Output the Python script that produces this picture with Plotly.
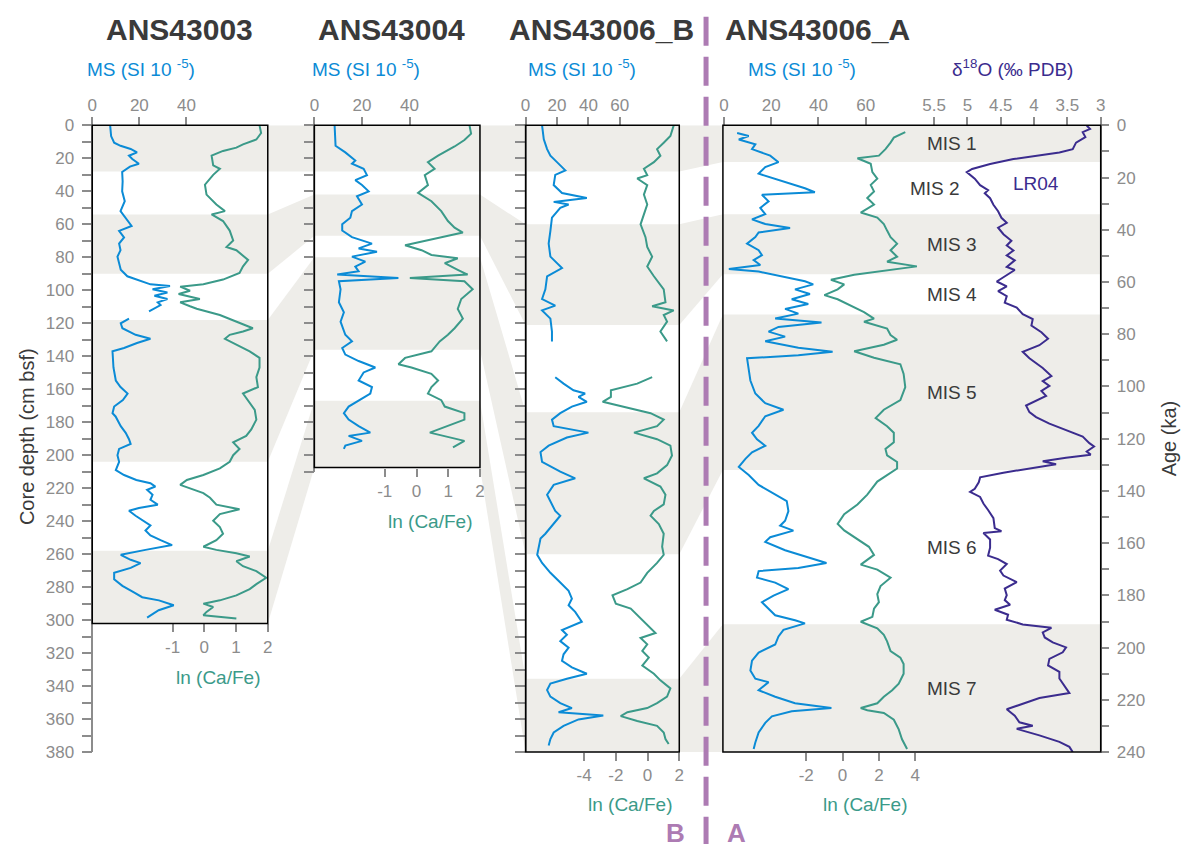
import plotly.graph_objects as go

W, H = 1189, 854

BLUE = "#0b8bd6"
GREEN = "#3b9a89"
PURPLE = "#3b2c8e"
MAUVE = "#ad7bb3"
BAND = "#eeede9"
TICK = "#8c8c8c"
DARK = "#3a3a3a"
FONT = "Arial, Liberation Sans, sans-serif"

DEPTH_MAX = 380
AGE_MAX = 240

# ---------------- ANS43003 ----------------
a3_length = 302
a3_ms_depth = [0, 6.5, 10.5, 12.4, 14.3, 16.4, 18.4, 20.4, 23.3, 25, 28.3, 34, 40, 46, 52, 56, 61, 64, 68,
               71.7, 75.7, 79.6, 83.6, 87.5, 91.5, 94.5, 96.4, 97.4, 99.4, 101.3, 103.3, 105.3, 107.3, 109,
               112.8, None,
               117.2, 120, 123, 127, 129.4, 132, 135, 137, 146.8, 154.7, 158.7, 162.6, 166.6, 170.5, 174.5,
               176.5, 182.4, 186.4, 190.3, 193.2, 196.2, 200, 204, 209, 212, 215, 217, 219, 221, 224, 227,
               230, 232, 233.7, 236.7, 239.7, 242.6, 245.6, 248.6, 251.5, 254.5, 257.4, 260.4, 263.4, 265.4,
               268.3, 271.3, 275.2, 279.2, 283.2, 286.1, 288, 291, 294, 297, 298.5]
a3_ms = [7.6, 8, 9.3, 12, 16.3, 19, 15.6, 17, 19.8, 16, 12.7, 12.9, 12.7, 13.8, 12, 14, 16.7, 11.4, 13.5,
         11.4, 12, 10.7, 11.4, 12.1, 14.9, 20.5, 24.7, 33, 25.6, 31.9, 26.4, 31.9, 27.8, 29,
         24.1, None,
         15.6, 12.1, 12.8, 18.4, 24.7, 19, 13.5, 8.6, 9, 10, 12, 15, 13, 9.3, 8.6,
         9.9, 12.1, 14.2, 15.6, 16.3, 11.4, 10.7, 11.4, 10, 13.5, 18.7, 24.7, 26.8, 23.3, 25.6, 24.7,
         27.8, 19.8, 15.6, 18.4, 21.9, 24.7, 22.6, 24.7, 29, 33.9, 22.6, 12.1, 16.3, 20.5,
         16.3, 9.3, 9.3, 12.8, 17.7, 21.2, 28.3, 34.6, 28.2, 24.7, 23.3]
a3_ln_depth = [0, 4.7, 8.6, 11.5, 13.5, 15.5, 18.4, 24.3, 26.3, 30, 36, 42, 48, 52, 54, 58, 63.8, 69.8, 73.8,
               75.7, 81.6, 85.5, 89.5, 93.5, 96.4, 97.8, 100.3, 102.3, 105.3, 107.3, 109.7, 111.2, 115, 119,
               123, 125, 127, 129.4, 133, 137, 141, 146.8, 152.7, 158.7, 162.6, 166.6, 172.5, 178.4, 184.4,
               188.3, 192.2, 196.2, 200, 204, 208, 212, 215, 218, 220, 223, 225.8, 230, 232.8, 235.7, 239.7,
               243.6, 247.6, 251.5, 255.5, 257.4, 259.4, 261.4, 264.3, 267.3, 270.3, 274.3, 278.2, 281.2,
               285, 288, 290, 292, 295, 297, 299]
a3_ln = [1.74, 1.79, 1.64, 1.22, 1.01, 0.59, 0.23, 0.28, 0.49, 0.28, 0.02, 0.07, 0.38, 0.65, 0.23, 0.59, 0.8,
         0.91, 0.7, 1.01, 1.38, 1.22, 1.11, 0.59, -0.03, -0.76, -0.45, -0.81, -0.14, -0.76, -0.45, -0.24,
         0.49, 1.01, 1.53, 1.22, 0.8, 0.65, 1.01, 1.43, 1.74, 1.74, 1.64, 1.69, 1.22, 1.38, 1.59, 1.64,
         1.48, 1.32, 0.91, 1.11, 0.91, 0.8, 0.49, -0.03, -0.55, -0.76, -0.45, -0.03, 0.18, 0.38, 1.11,
         0.49, 0.28, 0.49, 0.59, 0.38, -0.03, 0.38, 1.01, 1.43, 1.01, 1.22, 1.64, 1.95, 1.64, 1.43, 1.01,
         0.49, -0.03, 0.28, 0.07, -0.03, 1.01]
a3_bands = [(0, 28), (54, 90), (118, 204), (258, 302)]

# ---------------- ANS43004 ----------------
a4_length = 207.5
a4_ms_depth = [0, 12.4, 16.4, 21.3, 23.3, 26.3, 30.2, 33.2, 36.2, 40, 43, 48, 52, 56, 60, 63.8, 67.8, 71.7,
               74.6, 76.6, 79.6, 82.6, 85.6, 88.5, 90.5, 92.5, 94.5, 99.4, 107.3, 113.3, 119, 127, 131, 135,
               139, 142.9, 146.8, 149.8, 154.7, 158.7, 162.6, 166.6, 170.5, 174.5, 178.4, 182.4, 186.3,
               188.3, 191.3, 194.2, 196.2]
a4_ms = [8.5, 8.9, 13, 17.2, 15.8, 20.7, 22.1, 17.2, 20, 22.8, 17.9, 20, 15.8, 15.1, 11.7, 11.7, 15.8, 24.2,
         18.6, 26.3, 15.8, 21.4, 17.2, 18.6, 9.6, 35.3, 10.3, 11, 10.3, 12.4, 11, 13, 15.8, 11.7,
         13, 18.6, 25.6, 20.7, 18.6, 24.2, 23.5, 18.6, 14.4, 12.4, 14.4, 18.6, 23.5,
         14.4, 20, 13, 12.4]
a4_ln_depth = [0, 5, 8.9, 12.8, 18.4, 22.3, 26.3, 30.2, 36.2, 41, 46, 52, 58, 62, 65, 67, 69.8, 72.7, 75.7,
               78.6, 80.6, 83.6, 87.6, 90.5, 92.5, 94.5, 99.4, 105.3, 111.3, 117.2, 123, 127, 131, 137, 141,
               144.8, 146.8, 150.7, 154.7, 158.7, 162.6, 166.6, 170.5, 174.5, 178.4, 186.3, 191.3, 195.2]
a4_ln = [1.67, 1.72, 1.51, 1.2, 0.68, 0.36, 0.57, 0.26, 0.36, 0.05, 0.47, 0.78, 0.99, 1.2, 1.46, 0.99, 0.26,
         -0.36, 0.16, 0.47, 1.3, 0.89, 1.3, 1.61, -0.21, 1.51, 1.77, 1.41, 1.3, 1.46, 1.2, 0.99, 0.73, 0.47,
         -0.36, -0.57, -0.16, 0.47, 0.68, 0.47, 0.36, 0.78, 0.89, 1.51, 1.51, 0.42, 1.51, 1.15]
a4_bands = [(0, 28), (42, 67), (80, 136), (167, 207.5)]

# ---------------- ANS43006_B ----------------
b6_length = 380
b6_ms_depth = [0, 8.5, 14.4, 18.4, 22.3, 27.3, 30, 36.2, 41, 44, 46.4, 48, 50, 56, 64, 71.7, 79.6, 86.5, 91.5,
               99.4, 105.3, 109.3, 112.2, 117.2, 125, 131, None,
               152.7, 156.6, 160.6, 162.6, 164.6, 167.6, 170.5, 174.5, 178.4, 182.4, 186.3, 189.3, 194.2,
               198.1, 204, 210, 214, 218, 224, 229.8, 233.8, 236.7, 241.7, 247.6, 250.5, 255.5, 260.4, 265.3,
               271.3, 277.2, 282.2, 287, 291, 295, 301, 306, 308.8, 312.7, 316.7, 320.7, 324.6, 328.6, 332.5,
               335.5, 338.5, 342.4, 346.4, 350.3, 353.3, 355.8, 357.8, 360.2, 364.1, 368.1, 372.1, 376]
b6_ms = [10.5, 11.6, 13.7, 15.8, 20, 25.3, 18.9, 17.9, 23.2, 39, 17.9, 27.4, 22.1, 16.8, 15.8, 14.7, 15.8, 23.2,
         13.7, 12.6, 10.5, 18.9, 10.5, 15.8, 16.8, 16.8, None,
         18.9, 24.2, 30.5, 37.9, 33.7, 39, 29.5, 22.1, 16.8, 17.9, 40, 26.3, 14.7,
         9.5, 10.5, 22.1, 31.6, 17.9, 13.7, 16.8, 18.9, 22.1, 17.9, 12.6, 9.5, 8.4, 7.4, 10.5,
         15.8, 22.1, 27.4, 29.5, 27.4, 31.6, 35.8, 23.2, 26.3, 22.1, 27.4, 24.2, 23.2, 29.5, 39,
         26.3, 15.8, 13.7, 15.8, 22.1, 29.5, 21, 49.5, 33.7, 24.2, 17.9, 15.8, 14.7]
b6_ln_depth = [0, 6.5, 10.5, 14.4, 18.4, 22.3, 26.3, 30.2, 32.2, 36.2, 42, 48, 54, 60, 67.8, 73.7, 79.6, 85.6,
               91.5, 99.4, 107.3, 109.7, 112.2, 115, 119, 125, 131, None,
               152.7, 156.6, 160.6, 164.6, 167.6, 170.5, 174.5, 178.4, 182.4, 186.3, 190.3, 194.2, 200.2,
               206, 211, 214, 219, 224, 229.8, 233.8, 236.7, 241.7, 247.6, 255.5, 260.4, 265.3, 271.3,
               277.2, 281.2, 285, 290, 293, 299, 303, 307.8, 310.8, 314.7, 318.7, 322.7, 327.6, 332.5,
               336.5, 341.4, 346.4, 350.3, 353.3, 355.8, 358.2, 361.1, 364.1, 368.1, 372.1, 375.1]
b6_ln = [1.65, 1.44, 1.02, 0.6, 0.81, 0.4, -0.23, -0.02, -0.65, -0.02, -0.23, -0.02, -0.23, -0.44, -0.13,
         -0.02, 0.29, -0.02, 0.4, 1.02, 1.13, 0.29, 1.65, 1.02, 1.23, 0.81, 1.23, None,
         0.29, -0.65, -2.31, -2.31, -2.83, -1.48, 0.19, 1.02, 0.6, -0.85, 0.6, 1.44, 1.54,
         1.23, 0.6, -0.23, 0.81, 1.13, 1.02, 0.4, 0.19, 0.71, 1.02, 0.92, 1.02, 0.6, -0.02,
         -0.44, -1.27, -2.21, -2.0, -1.06, -0.44, -0.02, 0.5, -0.44, -0.02, -0.33, 0.08, -0.33, 0.4,
         0.81, 1.44, 1.23, 0.6, -0.02, -1.27, -1.69, -0.65, 0.6, 1.02, 1.13, 1.33]
b6_bands = [(0, 28), (60, 121), (174, 260), (335.5, 380)]

# ---------------- ANS43006_A (age scale) ----------------
a6_ms_age = [2.9, 4.1, 5.4, 7.3, 9.1, 11.6, 14.1, 16, 18.5, 20.4, 22.8, 24.1, 25.6, 26.6, 29.1, 31.6, 34, 36,
             37.8, 39.3, 41, 42.8, 45.3, 47.8, 49.7, 51.6, 53.5, 55, 56, 57.8, 59.7, 60.9, 62.8, 64.6, 66.6,
             68.4, 70.3, 72.1, 74, 75.5, 77.2, 79, 80.9, 82.7, 85.2, 86.7, 88, 89.2, 92.7, 97.7, 102.7,
             106.4, 108.9, 111.4, 115.1, 117.7, 120.2, 122.7, 125.2, 127.7, 130.8, 133.9, 137.7, 141.4,
             143.9, 147.7, 151.4, 153.3, 155.2, 157.7, 159.5, 162.7, 165.1, 167.6, 169.5, 170.7, 173.2,
             175.1, 177.6, 180.1, 182.6, 185.1, 187.6, 189.5, 190.7, 193.2, 195.7, 198.8, 201.9, 205,
             208.8, 211.9, 213.2, 216.3, 218.8, 221.3, 223.1, 224.4, 226.3, 228.8, 232.5, 236.3, 238.8]
a6_ms = [5.6, 10.5, 6.3, 13.3, 11.9, 19.6, 23.1, 17.5, 14.7, 21.7, 30.1, 34.3, 38.5, 16.1, 18.9, 15.4, 17.5,
         11.9, 17.5, 28, 14.7, 13.3, 9.8, 14.7, 16.1, 12.6, 15.4, 2.1, 14.7, 24.5, 34.3, 37.8, 30.1, 36.4,
         28.7, 35.7, 25.9, 31.5, 21.7, 41.3, 23.1, 18.9, 25.9, 17.5, 31.5, 46, 31.5, 9.8, 10.5, 11.2, 13.3,
         17.5, 25.2, 17.5, 14.7, 11.9, 14, 17.5, 11.9, 9.1, 6.3, 10.5, 14.7, 21.7,
         26.6, 27.3, 25.9, 23.8, 29.4, 19.6, 17.5, 25.9, 34.3, 43.4, 31.5, 14.7, 14,
         21.7, 27.3, 21, 16.1, 18.9, 21.7, 30.1, 34.3, 25.2, 23.1, 21.7, 14.7, 11.9,
         11.2, 13.3, 18.9, 14.7, 21.7, 30.1, 45.5, 28.7, 20.3, 17.5, 14.7, 13.3, 12.6]
a6_ln_age = [2.6, 4.7, 6.6, 9.1, 11.6, 12.6, 14.7, 17.9, 20.4, 22.8, 25.3, 27.8, 30.3, 33.4, 35.3, 37.8, 40.3,
             42.8, 45.3, 47.8, 50.3, 52.2, 54, 55.3, 57.2, 59.1, 60.9, 62.8, 65, 66.6, 69, 71.5, 74, 75.2,
             77.8, 80.3, 82.1, 84, 86.5, 89, 91.5, 95.2, 100.2, 105.2, 108.9, 112.1, 115.2, 117.7, 121.4,
             123.9, 126.4, 128.9, 131.4, 136.4, 141.4, 145.2, 148.9, 152.6, 155.1, 158.3, 161.4, 164.5,
             166.4, 168.2, 170.1, 173.2, 176.4, 179.5, 182.6, 185.1, 188.2, 190.1, 192.6, 195.1, 197.6,
             201.3, 203.8, 206.3, 210, 213.8, 216.3, 218.8, 221.3, 223.1, 224, 225, 227.6, 231.3, 235.1,
             238.8]
a6_ln = [3.45, 2.82, 2.64, 2.36, 2.0, 0.82, 1.55, 1.64, 1.91, 1.55, 1.73, 1.36, 1.73, 1.0, 1.91, 2.27, 2.45,
         2.64, 3.0, 2.64, 3.0, 2.45, 4.09, 2.64, 0.64, -0.64, 0.09, -0.27, -1.0, -0.27, 0.45, 1.18, 1.73,
         1.18, 2.45, 2.64, 3.0, 2.27, 0.64, 1.73, 3.18, 3.36, 3.45, 3.18, 2.27, 1.82, 2.45, 2.82, 2.82,
         2.36, 2.45, 3.0, 3.0, 1.91, 1.36, 0.82, 0.09, -0.27, 0.09, 0.82, 1.45, 1.73,
         1.36, 1.0, 1.91, 2.64, 2.09, 1.91, 2.0, 1.73, 1.64, 1.0, 1.91, 2.27, 2.45,
         2.64, 3.18, 3.36, 3.36, 3.09, 2.73, 2.27, 1.91, 1.0, 1.36, 2.27, 2.82, 3.09, 3.27, 3.55]

# LR04 benthic stack
lr04_age = [0.1, 1.4, 2.6, 4.5, 6.6, 7.9, 9.1, 10.4, 11.6, 12.9, 14.8, 16.7, 17.9, 20.4, 22.9, 24.8, 26, 27.9,
            30.4, 32.9, 35.4, 37.3, 39.2, 41.7, 44.2, 46, 47.9, 49.8, 51.7, 54.2, 55.4, 57.9, 59.8, 61.7,
            63.5, 65.4, 67.9, 69.8, 72.3, 74.2, 76.7, 79.2, 81.7, 84.2, 86.7, 89.2, 92.9, 96, 97.9, 99.8,
            101.7, 103.6, 105.4, 107.3, 109.8, 111.7, 114.2, 116.7, 119.2, 121.7, 123, 124.9, 126.1, 127.3,
            128.6, 129.8, 131.1, 133, 134.8, 136.7, 139.2, 140.4, 142.3, 144.8, 147.3, 150.4, 154.2, 155.4,
            156.1, 158.6, 161.7, 164.8, 166.1, 168, 170.5, 172.4, 174.9, 177.4, 179.9, 181.8, 183.6, 185.5,
            187.4, 189.3, 191.1, 192.4, 194.2, 196.1, 198, 199.9, 201.8, 204.3, 206.8, 209.3, 211.8, 214.3,
            217.4, 219.3, 221.8, 223.6, 226.1, 228.6, 229.9, 231.1, 233.6, 236.1, 238, 240]
lr04_d18o = [3.21, 3.16, 3.27, 3.23, 3.37, 3.4, 3.42, 3.62, 3.97, 4.31, 4.66, 4.93, 5.01, 4.89, 4.81, 4.69,
             4.74, 4.66, 4.61, 4.54, 4.49, 4.41, 4.54, 4.46, 4.34, 4.41, 4.31, 4.41, 4.29, 4.41, 4.29, 4.44,
             4.56, 4.41, 4.54, 4.41, 4.44, 4.26, 4.17, 4.02, 4.04, 3.89, 3.79, 3.92, 4.17, 4.07, 3.87, 3.74,
             3.87, 3.77, 3.89, 3.82, 3.97, 4.12, 4.07, 3.97, 3.77, 3.52, 3.27, 3.17, 3.1, 3.21, 3.15, 3.52,
             3.87, 3.67, 4.02, 4.46, 4.81, 4.83, 4.89, 4.96, 4.81, 4.76, 4.69, 4.61, 4.59, 4.49,
             4.76, 4.66, 4.66, 4.69, 4.54, 4.41, 4.51, 4.46, 4.26, 4.44, 4.41, 4.44, 4.36, 4.59,
             4.39, 4.41, 4.17, 3.74, 3.87, 3.84, 3.72, 3.52, 3.57, 3.77, 3.79, 3.62, 3.62, 3.55,
             3.47, 3.92, 4.22, 4.41, 4.29, 4.22, 4.02, 4.26, 3.92, 3.62, 3.47, 3.42]

# Marine isotope stages (ka)
mis_names = ["MIS 1", "MIS 2", "MIS 3", "MIS 4", "MIS 5", "MIS 6", "MIS 7"]
mis_bounds = [(0, 14), (14, 34), (34, 57), (57, 72.4), (72.4, 132), (132, 191), (191, 240)]
mis_bands = [(0, 14), (34, 57), (72.4, 132), (191, 240)]

# tick labels
ms_ticks = [0, 20, 40]
ms_ticks_long = [0, 20, 40, 60]
ln_ticks_a = [-1, 0, 1, 2]
ln_ticks_b = [-4, -2, 0, 2]
ln_ticks_c = [-2, 0, 2, 4]
d18o_ticks = [5.5, 5, 4.5, 4, 3.5, 3]

# ---------------- page geometry (pixels) ----------------
TOP, BOTTOM = 119, 760
P1 = (88, 265)
P2 = (312, 479)
P3 = (525, 680)
P4 = (725, 1105)


def fx(p):
    return p / W


def fy(p):
    return 1 - p / H


def depth_px(d):
    return TOP + d * (BOTTOM - TOP) / DEPTH_MAX


def age_as_depth(a):
    # the age axis and the depth axes span the same vertical extent
    return a * DEPTH_MAX / AGE_MAX


def labels(vals):
    return [f"{v:g}" for v in vals]


fig = go.Figure()


def line(x, y, xa, ya, color, width=2):
    fig.add_trace(go.Scatter(x=x, y=y, xaxis=xa, yaxis=ya, mode="lines", connectgaps=False,
                             line=dict(color=color, width=width), hoverinfo="skip", showlegend=False))


line(a3_ms, a3_ms_depth, "x", "y", BLUE)
line(a3_ln, a3_ln_depth, "x2", "y", GREEN)
line(a4_ms, a4_ms_depth, "x3", "y2", BLUE)
line(a4_ln, a4_ln_depth, "x4", "y2", GREEN)
line(b6_ms, b6_ms_depth, "x5", "y3", BLUE)
line(b6_ln, b6_ln_depth, "x6", "y3", GREEN)
line(a6_ms, a6_ms_age, "x7", "y4", BLUE)
line(a6_ln, a6_ln_age, "x8", "y4", GREEN)
line(lr04_d18o, lr04_age, "x9", "y4", PURPLE)

TICKFONT = dict(size=17, color=TICK, family=FONT)
common = dict(showgrid=False, zeroline=False, showline=False, ticks="outside", tickcolor=TICK, tickwidth=1.5,
              tickfont=TICKFONT)


def top_axis(domain, rng, vals, **kw):
    d = dict(common, range=rng, tickvals=vals, ticktext=labels(vals), anchor="free", position=fy(TOP),
             side="top", ticklen=8)
    if domain is not None:
        d["domain"] = domain
    d.update(kw)
    return d


def bottom_axis(overlay, rng, vals, bottom_px):
    return dict(common, overlaying=overlay, range=rng, tickvals=vals, ticktext=labels(vals), anchor="free",
                position=fy(bottom_px), side="bottom", ticklen=8)


layout_axes = dict(
    xaxis=top_axis([fx(P1[0]), fx(P1[1])], [0, (P1[1] - P1[0]) / 2.375], ms_ticks),
    xaxis2=bottom_axis("x", [-1 - 81 / 32, 2], ln_ticks_a, depth_px(a3_length)),
    xaxis3=top_axis([fx(P2[0]), fx(P2[1])], [0, (P2[1] - P2[0]) / 2.4], ms_ticks),
    xaxis4=bottom_axis("x3", [-1 - 71 / 32, 2], ln_ticks_a, depth_px(a4_length)),
    xaxis5=top_axis([fx(P3[0]), fx(P3[1])], [0, (P3[1] - P3[0]) / 1.5833], ms_ticks_long),
    xaxis6=bottom_axis("x5", [2 - (P3[1] - P3[0]) / 16, 2], ln_ticks_b, BOTTOM),
    xaxis7=top_axis([fx(P4[0]), fx(P4[1])], [0, (P4[1] - P4[0]) / 2.383], ms_ticks_long),
    xaxis8=bottom_axis("x7", [-2 - 83 / 18.33, 4 + 187 / 18.33], ln_ticks_c, BOTTOM),
    xaxis9=top_axis(None, [3 + (P4[1] - P4[0]) / 67.2, 3], d18o_ticks, overlaying="x7"),
)

ycommon = dict(showgrid=False, zeroline=False, ticks="outside", tickcolor=TICK, tickwidth=1.5,
               tickfont=TICKFONT, showline=True, linecolor=TICK, linewidth=1.5)

layout_axes.update(
    yaxis=dict(ycommon, domain=[fy(BOTTOM), fy(TOP)], range=[DEPTH_MAX, 0], anchor="free", position=fx(P1[0]),
               side="left", dtick=20, ticklen=10, ticklabelstandoff=4,
               minor=dict(dtick=10, ticklen=10, tickcolor=TICK, tickwidth=1.5, ticks="outside")),
    yaxis2=dict(ycommon, domain=[fy(depth_px(210)), fy(TOP)], range=[210, 0], anchor="free",
                position=fx(P2[0]), side="left", dtick=10, ticklen=10, showticklabels=False),
    yaxis3=dict(ycommon, domain=[fy(BOTTOM), fy(TOP)], range=[DEPTH_MAX, 0], anchor="free",
                position=fx(P3[0]), side="left", dtick=10, ticklen=10, showticklabels=False),
    yaxis4=dict(ycommon, domain=[fy(BOTTOM), fy(TOP)], range=[AGE_MAX, 0], anchor="free",
                position=fx(P4[1]), side="right", dtick=20, ticklen=8, ticklabelstandoff=4,
                minor=dict(dtick=10, ticklen=8, tickcolor=TICK, tickwidth=1.5, ticks="outside")),
)

shapes = []


def band_rect(x0, x1, top, bot, yref="y"):
    shapes.append(dict(type="rect", xref="paper", yref=yref, x0=fx(x0), x1=fx(x1), y0=top, y1=bot,
                       fillcolor=BAND, line=dict(width=0), layer="below"))


def connector(xa, xb, band_a, band_b):
    (ta, ba), (tb, bb) = band_a, band_b
    path = (f"M{fx(xa)},{ta} L{fx(xb)},{tb} L{fx(xb)},{bb} L{fx(xa)},{ba} Z")
    shapes.append(dict(type="path", xref="paper", yref="y", path=path, fillcolor=BAND,
                       line=dict(width=0), layer="below"))


for b in a3_bands:
    band_rect(P1[0], P1[1], *b)
for b in a4_bands:
    band_rect(P2[0], P2[1], *b)
for b in b6_bands:
    band_rect(P3[0], P3[1], *b)
for b in mis_bands:
    band_rect(P4[0] - 1, P4[1], *b, yref="y4")

for ba, bb in zip(a3_bands, a4_bands):
    connector(P1[1], P2[0], ba, bb)
for ba, bb in zip(a4_bands, b6_bands):
    connector(P2[1], P3[0], ba, bb)
for ba, bb in zip(b6_bands, mis_bands):
    connector(P3[1], P4[0] - 1, ba, (age_as_depth(bb[0]), age_as_depth(bb[1])))

# core frames
for (x0, x1), length in [(P1, a3_length), (P2, a4_length), (P3, b6_length)]:
    shapes.append(dict(type="rect", xref="paper", yref="paper", x0=fx(x0), x1=fx(x1),
                       y0=fy(depth_px(length)), y1=fy(TOP), line=dict(color="black", width=1.5),
                       fillcolor="rgba(0,0,0,0)", layer="above"))
shapes.append(dict(type="rect", xref="paper", yref="paper", x0=fx(P4[0] - 1), x1=fx(P4[1]),
                   y0=fy(BOTTOM), y1=fy(TOP), line=dict(color="black", width=1.5),
                   fillcolor="rgba(0,0,0,0)", layer="above"))

# divider between the two records
shapes.append(dict(type="line", xref="paper", yref="paper", x0=fx(707), x1=fx(707), y0=fy(8), y1=0,
                   line=dict(color=MAUVE, width=5, dash="29px,11px"), layer="above"))

annotations = []


def text(s, x, y, size, color, bold=False, angle=0, xanchor="center"):
    annotations.append(dict(text=f"<b>{s}</b>" if bold else s, x=fx(x), y=fy(y), xref="paper", yref="paper",
                            showarrow=False, xanchor=xanchor, yanchor="middle", textangle=angle,
                            font=dict(size=size, color=color, family=FONT)))


for s, cx in [("ANS43003", 175.5), ("ANS43004", 389.5), ("ANS43006_B", 601.3), ("ANS43006_A", 819.7)]:
    text(s, cx, 21, 30, DARK, bold=True)

for cx in [137, 364, 582, 804]:
    text("MS (SI 10 <sup>-5</sup>)", cx, 60, 19, BLUE)
text("δ<sup>18</sup>O (‰ PDB)", 1016, 60, 19, PURPLE)

for cx, cy in [(215, 684), (429, 524), (630, 814), (867, 814)]:
    text("ln (Ca/Fe)", cx, cy, 19, GREEN)

text("Core depth (cm bsf)", 22, 437, 20, DARK, angle=-90)
text("Age (ka)", 1174, 439, 20, DARK, angle=-90)

mis_x = [955, 938, 955, 955, 955, 955, 955]
for name, (a0, a1), cx in zip(mis_names, mis_bounds, mis_x):
    annotations.append(dict(text=name, x=fx(cx), y=(a0 + a1) / 2, xref="paper", yref="y4", showarrow=False,
                            xanchor="center", yanchor="middle", font=dict(size=19, color=DARK, family=FONT)))

text("LR04", 1040, 178, 19, PURPLE)
text("B", 676, 843, 26, MAUVE, bold=True)
text("A", 738, 843, 26, MAUVE, bold=True)

fig.update_layout(
    width=W, height=H, margin=dict(l=0, r=0, t=0, b=0),
    paper_bgcolor="white", plot_bgcolor="rgba(0,0,0,0)",
    font=dict(family=FONT), showlegend=False,
    shapes=shapes, annotations=annotations,
    **layout_axes,
)

fig.write_html("out.html")
